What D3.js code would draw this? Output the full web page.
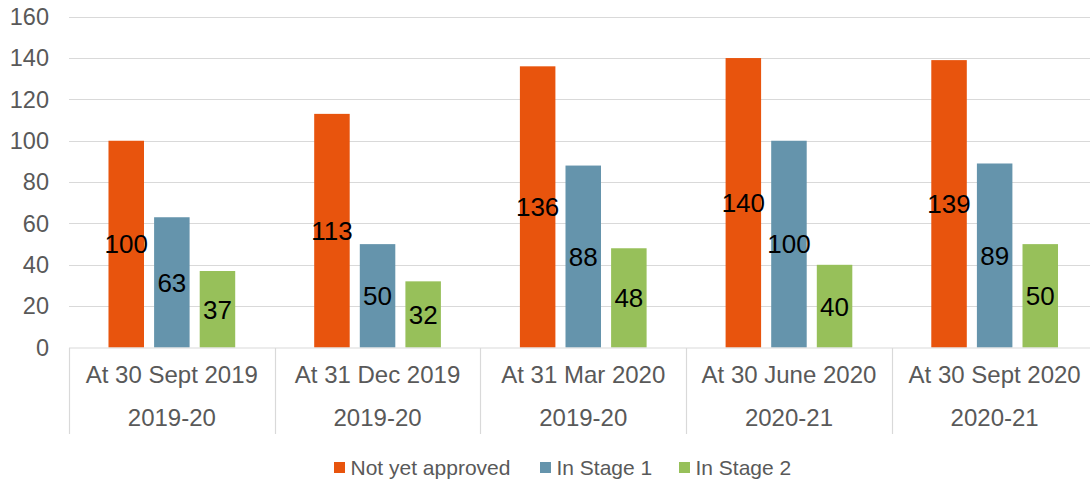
<!DOCTYPE html>
<html>
<head>
<meta charset="utf-8">
<script src="https://cdn.jsdelivr.net/npm/d3@7"></script>
<style>
  html, body { margin: 0; padding: 0; background: #fff; }
  svg { display: block; font-family: Arial, "Liberation Sans", sans-serif; }
</style>
</head>
<body>
<svg id="chart" width="1090" height="481"></svg>
<script>
const categories = ["At 30 Sept 2019", "At 31 Dec 2019", "At 31 Mar 2020", "At 30 June 2020", "At 30 Sept 2020"];
const years = ["2019-20", "2019-20", "2019-20", "2020-21", "2020-21"];
const seriesNames = ["Not yet approved", "In Stage 1", "In Stage 2"];
const notYetApproved = [100, 113, 136, 140, 139];
const inStage1 = [63, 50, 88, 100, 89];
const inStage2 = [37, 32, 48, 40, 50];
const yTicks = [0, 20, 40, 60, 80, 100, 120, 140, 160];
const colors = ["#E8540D", "#6594AC", "#97C05A"];

const seriesValues = [notYetApproved, inStage1, inStage2];
const svg = d3.select("#chart");

const x0 = d3.scaleBand().domain(d3.range(categories.length)).range([69, 1097.5]).padding(0);
const x1 = d3.scaleBand().domain(d3.range(seriesNames.length)).range([0, x0.bandwidth()])
  .paddingInner(0.2215).paddingOuter(0.866);
const y = d3.scaleLinear().domain([0, 160]).range([347.5, 16.7]);

// gridlines
svg.append("g").selectAll("line").data(yTicks.filter(t => t > 0)).join("line")
  .attr("x1", 69).attr("x2", 1090)
  .attr("y1", d => Math.round(y(d)) + 0.5).attr("y2", d => Math.round(y(d)) + 0.5)
  .attr("stroke", "#D9D9D9").attr("stroke-width", 1.2);

// y tick labels
svg.append("g").selectAll("text").data(yTicks).join("text")
  .attr("x", 49).attr("y", d => y(d)).attr("dy", "0.35em")
  .attr("text-anchor", "end").attr("fill", "#595959").attr("font-size", 23.5)
  .text(d => d);

// bars
const groups = svg.append("g").selectAll("g").data(categories).join("g")
  .attr("transform", (d, i) => `translate(${x0(i)},0)`);

groups.each(function(c, ci) {
  const g = d3.select(this);
  seriesNames.forEach((s, si) => {
    const v = seriesValues[si][ci];
    g.append("rect")
      .attr("x", x1(si)).attr("width", x1.bandwidth())
      .attr("y", y(v)).attr("height", y(0) - y(v))
      .attr("fill", colors[si]);
  });
  seriesNames.forEach((s, si) => {
    const v = seriesValues[si][ci];
    g.append("text")
      .attr("x", x1(si) + x1.bandwidth() / 2)
      .attr("y", (y(v) + y(0)) / 2).attr("dy", "0.36em")
      .attr("text-anchor", "middle").attr("font-size", 26).attr("fill", "#000")
      .text(v);
  });
});

// x axis line
svg.append("line").attr("x1", 69).attr("x2", 1090).attr("y1", 348).attr("y2", 348)
  .attr("stroke", "#D9D9D9").attr("stroke-width", 1.2);

// category dividers
svg.append("g").selectAll("line").data(d3.range(categories.length)).join("line")
  .attr("x1", d => Math.round(x0(d)) + 0.5).attr("x2", d => Math.round(x0(d)) + 0.5)
  .attr("y1", 348).attr("y2", 434)
  .attr("stroke", "#D9D9D9").attr("stroke-width", 1.2);

// category labels
svg.append("g").selectAll("text").data(categories).join("text")
  .attr("x", (d, i) => x0(i) + x0.bandwidth() / 2).attr("y", 383)
  .attr("text-anchor", "middle").attr("fill", "#595959").attr("font-size", 24)
  .text(d => d);
svg.append("g").selectAll("text").data(years).join("text")
  .attr("x", (d, i) => x0(i) + x0.bandwidth() / 2).attr("y", 426)
  .attr("text-anchor", "middle").attr("fill", "#595959").attr("font-size", 24)
  .text(d => d);

// legend
const legendX = [334, 540, 679];
const legend = svg.append("g").selectAll("g").data(seriesNames).join("g")
  .attr("transform", (d, i) => `translate(${legendX[i]},0)`);
legend.append("rect").attr("x", 0).attr("y", 462).attr("width", 11).attr("height", 11)
  .attr("fill", (d, i) => colors[i]);
legend.append("text").attr("x", 16.5).attr("y", 474.5)
  .attr("fill", "#595959").attr("font-size", 21).text(d => d);
</script>
</body>
</html>
